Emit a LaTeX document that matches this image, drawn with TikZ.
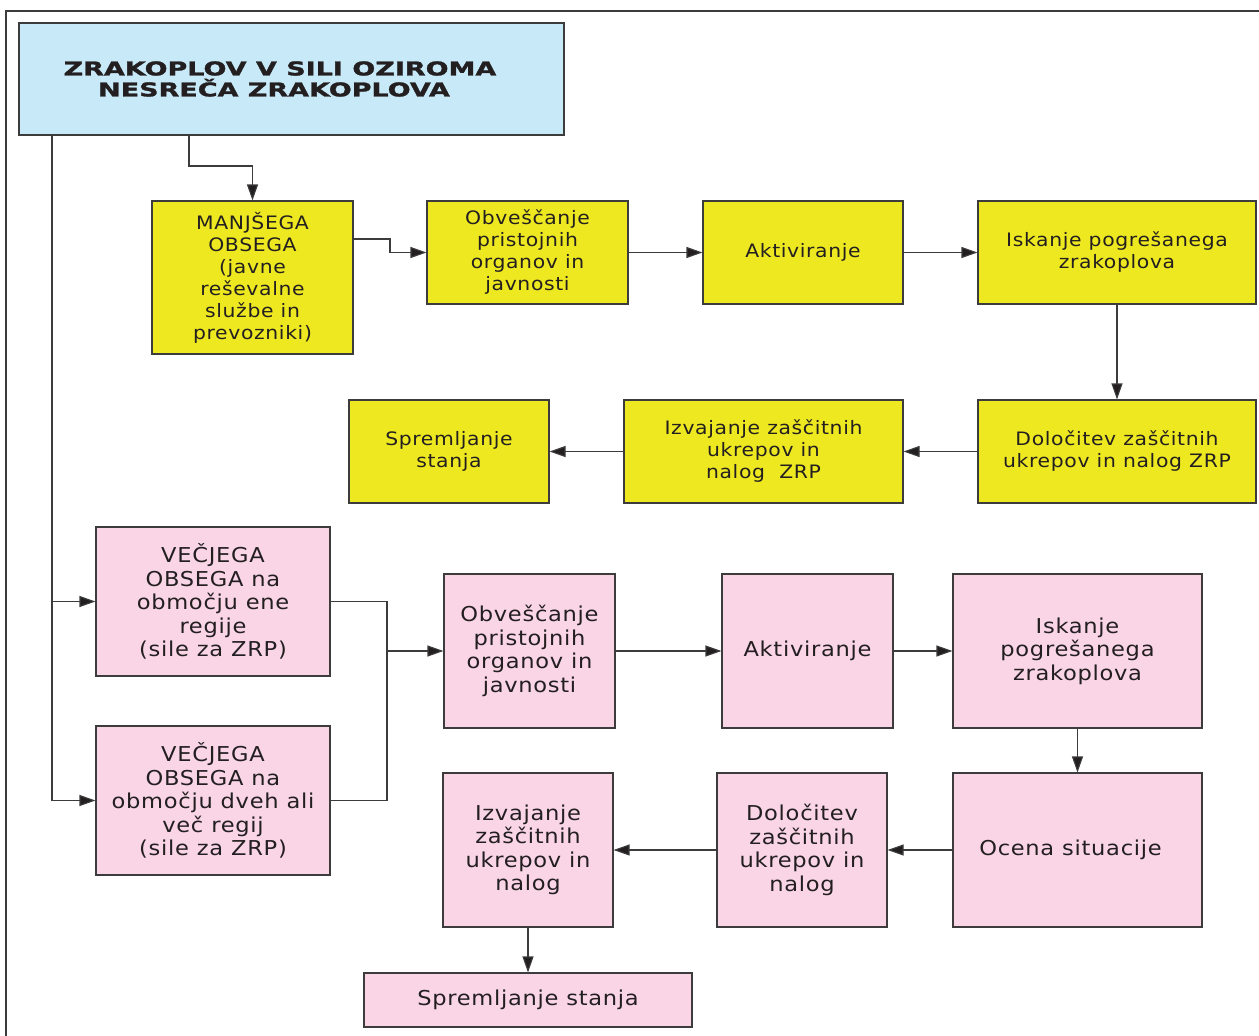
\documentclass[tikz,border=0pt]{standalone}
\usepackage{fontspec}
\usetikzlibrary{arrows.meta}
\newfontfamily\bodyfont[FakeStretch=1.1,LetterSpace=3.5]{DejaVu Sans}
\newfontfamily\titlefont[FakeStretch=1.42,FakeBold=1.5]{DejaVu Sans Bold}
\definecolor{ylw}{RGB}{238,232,32}
\definecolor{pnk}{RGB}{249,213,230}
\definecolor{blu}{RGB}{200,234,248}
\definecolor{ink}{RGB}{35,31,32}
\definecolor{edge}{RGB}{60,60,60}
\tikzset{
  box/.style={draw=edge, line width=1.1pt, inner sep=0pt, align=center, text=ink},
  ybox/.style={box, fill=ylw, font={\bodyfont\fontsize{18.5}{22}\selectfont}},
  pbox/.style={box, fill=pnk, font={\bodyfont\fontsize{20.5}{23.5}\selectfont}},
  tbox/.style={box, fill=blu, font={\titlefont\fontsize{19}{21}\selectfont}},
  conn/.style={draw=edge, line width=1.1pt},
  arr/.style={conn, -{Triangle[length=16pt,width=11pt,fill=ink]}},
}
\begin{document}
\begin{tikzpicture}[x=1pt,y=-1pt]
\useasboundingbox (0,0) rectangle (1259,1036);
\draw[draw=edge, line width=1.5pt] (6,1036) -- (6,11) -- (1259,11);

\node[tbox, minimum width=545, minimum height=112] (title) at (291.5,79)
  {ZRAKOPLOV V SILI OZIROMA\hspace*{23pt}\\NESREČA ZRAKOPLOVA\hspace*{35pt}};

\node[ybox, minimum width=201, minimum height=153] (y1) at (252.5,277.5)
  {MANJŠEGA\\OBSEGA\\(javne\\reševalne\\službe in\\prevozniki)};
\node[ybox, minimum width=201, minimum height=103] (y2) at (527.5,252.5)
  {Obveščanje\\pristojnih\\organov in\\javnosti};
\node[ybox, minimum width=200, minimum height=103] (y3) at (803,252.5)
  {Aktiviranje};
\node[ybox, minimum width=278, minimum height=103] (y4) at (1117,252.5)
  {Iskanje pogrešanega\\zrakoplova};
\node[ybox, minimum width=278, minimum height=103] (y5) at (1117,451.5)
  {Določitev zaščitnih\\ukrepov in nalog ZRP};
\node[ybox, minimum width=279, minimum height=103] (y6) at (763.5,451.5)
  {Izvajanje zaščitnih\\ukrepov in\\nalog\ \ ZRP};
\node[ybox, minimum width=200, minimum height=103] (y7) at (449,451.5)
  {Spremljanje\\stanja};

\node[pbox, minimum width=234, minimum height=149] (p1) at (213,601.5)
  {VEČJEGA\\OBSEGA na\\območju ene\\regije\\(sile za ZRP)};
\node[pbox, minimum width=234, minimum height=149] (p2) at (213,800.5)
  {VEČJEGA\\OBSEGA na\\območju dveh ali\\več regij\\(sile za ZRP)};
\node[pbox, minimum width=171, minimum height=154] (p3) at (529.5,651)
  {Obveščanje\\pristojnih\\organov in\\javnosti};
\node[pbox, minimum width=171, minimum height=154] (p4) at (807.5,651)
  {Aktiviranje};
\node[pbox, minimum width=249, minimum height=154] (p5) at (1077.5,651)
  {Iskanje\\pogrešanega\\zrakoplova};
\node[pbox, minimum width=249, minimum height=154] (p6) at (1077.5,850)
  {Ocena situacije\hspace*{14pt}};
\node[pbox, minimum width=170, minimum height=154] (p7) at (802,850)
  {Določitev\\zaščitnih\\ukrepov in\\nalog};
\node[pbox, minimum width=170, minimum height=154] (p8) at (528,850)
  {Izvajanje\\zaščitnih\\ukrepov in\\nalog};
\node[pbox, minimum width=328, minimum height=54] (p9) at (528,1000)
  {Spremljanje stanja};

% connectors from title
\coordinate (ta) at (title.south -| 189,0);
\coordinate (tb) at (title.south -| 52,0);
\draw[arr] (ta) -- (189,166) -| (y1.north);
\draw[arr] (tb) |- (p2.west);
\draw[arr] (tb |- p1.west) -- (p1.west);

% yellow chain
\draw[arr] (y1.east |- 0,239) -- (390,239) |- (y2.west);
\draw[arr] (y2.east) -- (y3.west);
\draw[arr] (y3.east) -- (y4.west);
\draw[arr] (y4.south) -- (y5.north);
\draw[arr] (y5.west) -- (y6.east);
\draw[arr] (y6.west) -- (y7.east);

% pink chain
\coordinate (m) at (387,651);
\draw[conn] (p1.east) -| (m) |- (p2.east);
\draw[arr] (m) -- (p3.west);
\draw[arr] (p3.east) -- (p4.west);
\draw[arr] (p4.east) -- (p5.west);
\draw[arr] (p5.south) -- (p6.north);
\draw[arr] (p6.west) -- (p7.east);
\draw[arr] (p7.west) -- (p8.east);
\draw[arr] (p8.south) -- (p9.north);
\end{tikzpicture}
\end{document}
